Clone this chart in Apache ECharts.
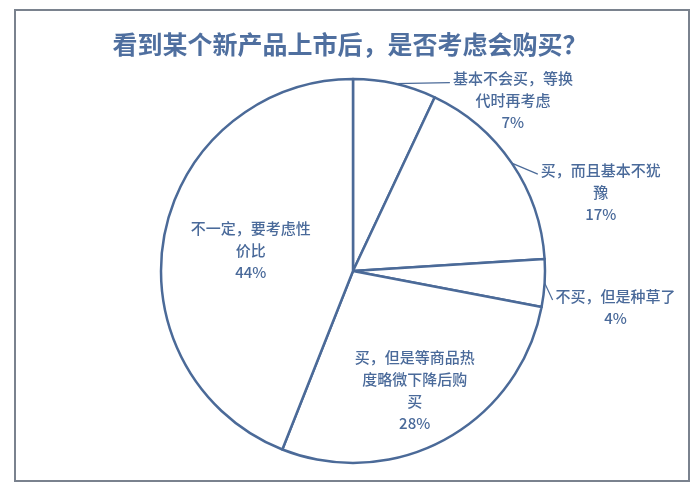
<!DOCTYPE html>
<html>
<head>
<meta charset="utf-8">
<script src="https://cdn.jsdelivr.net/npm/echarts@6/dist/echarts.min.js"></script>
<style>
html,body{margin:0;padding:0;background:#fff;}
#chart{width:700px;height:494px;}
</style>
</head>
<body>
<div id="chart"></div>
<script>
const titleText = '看到某个新产品上市后，是否考虑会购买？';
const categories = [
  '基本不会买，等换\n代时再考虑',
  '买，而且基本不犹\n豫',
  '不买，但是种草了',
  '买，但是等商品热\n度略微下降后购\n买',
  '不一定，要考虑性\n价比'
];
const values = [7, 17, 4, 28, 44];

// label placement styling (not data)
const insideSet = {3: [14, 33], 4: [-5, -2]};
const lineOffsets = {0: [55, -1], 1: [26, 11], 2: [8, 17]};

const chart = echarts.init(document.getElementById('chart'));
const data = categories.map((n, i) => ({
  name: n,
  value: values[i],
  label: { position: insideSet[i] ? 'inside' : 'outside' },
  labelLine: { show: !insideSet[i], length: 0, length2: 10 }
}));

const blue = '#4b6a98';
chart.setOption({
  backgroundColor: '#fff',
  animation: false,
  title: {
    text: titleText,
    left: 'center',
    top: 27,
    textStyle: { fontFamily: 'Noto Sans CJK SC', fontSize: 25, fontWeight: 'bold', color: '#4f6f9f' }
  },
  graphic: [{
    type: 'rect',
    shape: { x: 15, y: 10, width: 674, height: 471 },
    style: { fill: 'none', stroke: '#7a828e', lineWidth: 2 },
    z: 0
  }],
  series: [{
    type: 'pie',
    center: [353, 271],
    radius: 192,
    startAngle: 90,
    clockwise: true,
    avoidLabelOverlap: false,
    itemStyle: { color: '#fff', borderColor: blue, borderWidth: 2.5 },
    emphasis: { disabled: true },
    label: {
      formatter: p => p.name + '\n' + p.value + '%',
      fontFamily: 'Noto Sans CJK SC',
      fontSize: 15,
      lineHeight: 22,
      fontWeight: 500,
      color: '#4a6a9a',
      align: 'center'
    },
    labelLine: { lineStyle: { color: blue, width: 1.2 } },
    labelLayout: function (p) {
      const i = p.dataIndex;
      if (insideSet[i]) {
        return { dx: insideSet[i][0], dy: insideSet[i][1] };
      }
      const pts = p.labelLinePoints;
      if (!pts) return {};
      const p0 = pts[0];
      const off = lineOffsets[i];
      const end = [p0[0] + off[0], p0[1] + off[1]];
      return {
        x: end[0] + 3 + p.labelRect.width / 2,
        y: end[1] - 15,
        align: 'center',
        verticalAlign: 'top',
        labelLinePoints: [p0, p0, end]
      };
    },
    data: data
  }]
});
</script>
</body>
</html>
